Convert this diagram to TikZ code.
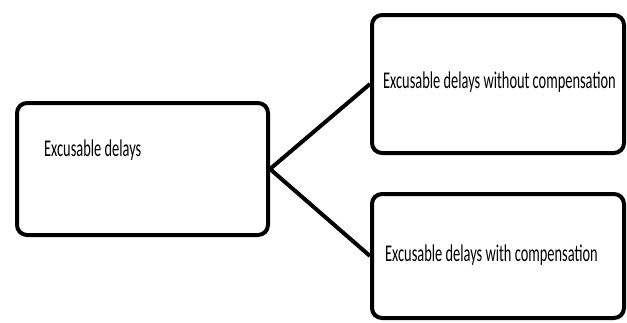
\documentclass[tikz,border=0pt]{standalone}
\usepackage{fontspec}
\setmainfont{Carlito}[FakeStretch=0.6]

\tikzset{
  delaybox/.style={draw, line width=4pt, rounded corners=10pt, inner sep=0pt},
  delaytext/.style={inner sep=0pt, anchor=base west, font=\fontsize{24}{29}\selectfont},
  link/.style={line width=4pt}
}

\begin{document}
\begin{tikzpicture}[x=1pt,y=-1pt]
    \useasboundingbox (0,0) rectangle (627,322);
    %draw boxes
    \node [delaybox, minimum width=251pt, minimum height=132pt] (excusable) at (142.5,169) {};
    \node [delaybox, minimum width=252pt, minimum height=138pt] (nocomp) at (498,84) {};
    \node [delaybox, minimum width=252pt, minimum height=124pt] (withcomp) at (498,256) {};
    %texts
    \node [delaytext] (excusabletext) at ([shift={(29,55)}]excusable.north west) {Excusable delays};
    \node [delaytext] (nocomptext) at ([shift={(13,4)}]nocomp.west) {Excusable delays without compensation};
    \node [delaytext] (withcomptext) at ([shift={(15,5)}]withcomp.west) {Excusable delays with compensation};
    %draw lines
    \draw [link] (excusable.east) -- (nocomp.west);
    \draw [link] (excusable.east) -- (withcomp.west);
\end{tikzpicture}
\end{document}
